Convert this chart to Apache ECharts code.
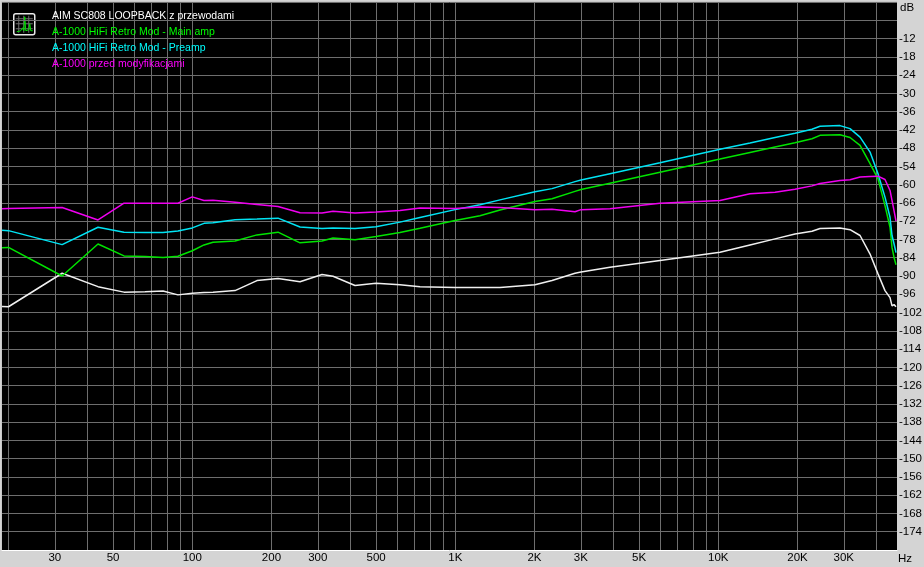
<!DOCTYPE html>
<html><head><meta charset="utf-8">
<style>html,body{margin:0;padding:0;background:#d4d4d4}#c{width:924px;height:567px}</style>
<script src="https://cdn.jsdelivr.net/npm/echarts@6/dist/echarts.min.js"></script>
</head><body><div id="c"></div>
<script>
const freqs=[18.9,20,32,43.8,55,66.1,77.4,88.2,100,110.8,119.9,145.4,176.2,211.8,256.8,311.3,342.8,415.6,499.3,616.1,734.2,997.5,1241,1479,2009,2332,2852,3006,3873,6002,10150,13200,16430,19570,22710,24360,29020,31680,34590,37750,40480,43030,44970,45760,46570,47390];
const loopback=[-100,-100.1,-89.1,-93.5,-95.3,-95.2,-94.9,-96.2,-95.7,-95.4,-95.3,-94.8,-91.5,-90.8,-91.9,-89.5,-90.1,-93.1,-92.4,-92.9,-93.5,-93.8,-93.8,-93.8,-92.9,-91.5,-89.1,-88.7,-87.1,-84.9,-82.2,-79.8,-77.8,-76.2,-75.3,-74.4,-74.2,-74.8,-76.7,-82.8,-89.3,-94.8,-97.1,-99.8,-99.4,-100.1];
const mainAmp=[-80.7,-80.6,-90,-79.5,-83.4,-83.6,-83.9,-83.5,-81.7,-79.8,-78.9,-78.5,-76.5,-75.6,-79.1,-78.5,-77.5,-78.1,-77,-75.7,-74.3,-71.8,-70.2,-68.3,-65.5,-64.6,-62.2,-61.6,-59.5,-55.9,-51.6,-49.4,-47.6,-46.2,-44.9,-43.8,-43.6,-44.5,-47.1,-53.1,-58.1,-66.9,-74,-80.6,-83.9,-86.3];
const preamp=[-75,-75.1,-79.7,-74,-75.6,-75.7,-75.7,-75.2,-74.2,-72.7,-72.5,-71.5,-71.3,-71,-73.9,-74.4,-74.2,-74.4,-73.8,-72.3,-70.8,-68.2,-66.6,-65,-62.3,-61.3,-59,-58.5,-56.4,-52.8,-48.4,-46.3,-44.5,-43.1,-41.8,-40.8,-40.6,-41.6,-44.4,-49.3,-56.4,-64.1,-70.7,-76.7,-79.4,-82.3];
const beforeMods=[-67.9,-67.8,-67.5,-71.6,-66.1,-66.1,-66.1,-66.1,-64,-65.2,-65.1,-65.8,-66.5,-67.2,-69.2,-69.3,-68.7,-69.3,-69,-68.5,-67.7,-67.8,-67.3,-67.5,-68.2,-68.1,-68.9,-68.2,-67.9,-66.1,-65.2,-63,-62.5,-61.5,-60.4,-59.6,-58.6,-58.4,-57.5,-57.3,-57.2,-58.3,-61.9,-62.5,-68.5,-72];
const seriesNames=['AIM SC808 LOOPBACK z przewodami','A-1000 HiFi Retro Mod - Main amp','A-1000 HiFi Retro Mod - Preamp','A-1000 przed modyfikacjami'];
const lineColors=['#f0f0f0','#00e400','#00e4f4','#f000f0'];
const textColors=['#ffffff','#00ff00','#00ffff','#ff00ff'];
const gridFreqs=[20,30,40,50,60,70,80,90,100,200,300,400,500,600,700,800,900,1000,2000,3000,4000,5000,6000,7000,8000,9000,10000,20000,30000,40000];
const freqLabels=[30,50,100,200,300,500,1000,2000,3000,5000,10000,20000,30000];
const values=[loopback,mainAmp,preamp,beforeMods];
const fnt='"Liberation Sans",Arial,sans-serif';
const chart=echarts.init(document.getElementById('c'),null,{renderer:'canvas'});
chart.setOption({
 animation:false,backgroundColor:'#d4d4d4',
 grid:{left:2,top:2,width:895,height:548,show:true,backgroundColor:'#000',borderColor:'#000',borderWidth:0,outerBoundsMode:'none'},
 legend:{orient:'vertical',left:43,top:10,padding:0,itemGap:4,itemWidth:4,itemHeight:12,icon:'none',selectedMode:false,
  data:seriesNames.map((n,i)=>({name:n,textStyle:{color:textColors[i]}})),
  textStyle:{fontFamily:fnt,fontSize:10.5,padding:0,lineHeight:12}},
 xAxis:{type:'log',logBase:10,min:18.9,max:47800,
  axisLine:{show:true,onZero:false,lineStyle:{color:'#fff',width:1}},
  axisTick:{show:false,customValues:gridFreqs},
  axisLabel:{customValues:freqLabels,color:'#000',fontFamily:fnt,fontSize:11.5,margin:2,hideOverlap:false,
   formatter:v=>v>=1000?(Math.round(v/1000)+'K'):String(Math.round(v))},
  splitLine:{show:true,lineStyle:{color:'#6e6e6e',width:1}},minorSplitLine:{show:false}},
 yAxis:{type:'value',min:-180,max:0,interval:6,position:'right',
  axisLine:{show:false},axisTick:{show:false},
  axisLabel:{color:'#000',fontFamily:fnt,fontSize:11.5,margin:2,
   formatter:v=>(v===0||v===-6||v===-180)?'':String(v)},
  splitLine:{show:true,lineStyle:{color:'#6e6e6e',width:1}}},
 series:values.map((vals,i)=>({name:seriesNames[i],type:'line',showSymbol:false,symbol:'none',
   lineStyle:{color:lineColors[i],width:1.5},itemStyle:{color:lineColors[i]},
   data:freqs.map((f,j)=>[f,vals[j]])})),
 graphic:[
  {type:'text',left:900,top:2,style:{text:'dB',fill:'#000',font:'11.5px '+fnt}},
  {type:'text',left:898,top:553,style:{text:'Hz',fill:'#000',font:'11.5px '+fnt}},
  {type:'line',shape:{x1:1.5,y1:1.5,x2:897,y2:1.5},style:{stroke:'#c8c8c8',lineWidth:1}},
  {type:'line',shape:{x1:1.5,y1:1.5,x2:1.5,y2:550},style:{stroke:'#c8c8c8',lineWidth:1}},
  {type:'group',left:13,top:13,children:[
    {type:'rect',shape:{x:0,y:0,width:21,height:21,r:2},style:{fill:'#000',stroke:'#e8e8e8',lineWidth:1.5}},
    ...[5,10,15].flatMap(p=>[
     {type:'line',shape:{x1:p,y1:2,x2:p,y2:19},style:{stroke:'#707070',lineWidth:1}},
     {type:'line',shape:{x1:2,y1:p,x2:19,y2:p},style:{stroke:'#707070',lineWidth:1}}]),
    {type:'polyline',shape:{points:[[3,18],[7,17],[9,14],[10,17],[11,3],[12,17],[15,16],[16,10],[17,17],[19,17]]},style:{stroke:'#00e000',fill:'none',lineWidth:1}}
  ]}
 ]
});
</script></body></html>
